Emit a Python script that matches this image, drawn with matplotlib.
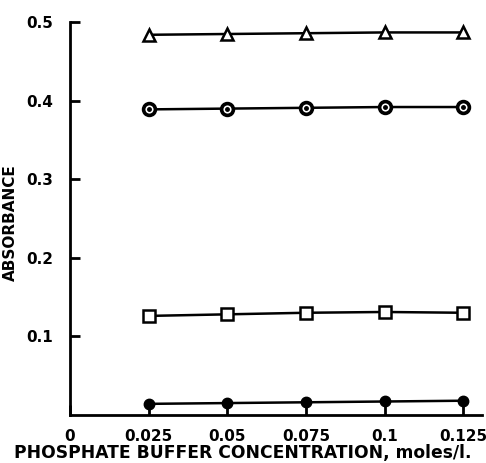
import matplotlib
matplotlib.use("Agg")
import matplotlib.pyplot as plt

conc = [0.025, 0.05, 0.075, 0.1, 0.125]
triangle_vals = [0.484, 0.485, 0.486, 0.487, 0.487]
dotcircle_vals = [0.389, 0.390, 0.391, 0.392, 0.392]
square_vals = [0.126, 0.128, 0.130, 0.131, 0.130]
filled_vals = [0.014, 0.015, 0.016, 0.017, 0.018]
xticks = [0, 0.025, 0.05, 0.075, 0.1, 0.125]
xticklabels = ["0", "0.025", "0.05", "0.075", "0.1", "0.125"]
yticks = [0.1, 0.2, 0.3, 0.4, 0.5]
yticklabels = ["0.1", "0.2", "0.3", "0.4", "0.5"]

plt.rcParams['font.family'] = ['DejaVu Sans']
plt.rcParams['font.weight'] = 'bold'

fig = plt.figure(figsize=(4.86, 4.63), dpi=100)
ax = fig.add_axes([0.144, 0.104, 0.848, 0.848])

lw = 1.8
ax.plot(conc, triangle_vals, color='black', lw=lw, marker='^', ms=9,
        mfc='white', mec='black', mew=1.8, zorder=3)
ax.plot(conc, dotcircle_vals, color='black', lw=lw, marker='o', ms=8.5,
        mfc='white', mec='black', mew=2.6, zorder=3)
ax.plot(conc, dotcircle_vals, ls='none', marker='o', ms=2.5, color='black', zorder=4)
ax.plot(conc, square_vals, color='black', lw=lw, marker='s', ms=8,
        mfc='white', mec='black', mew=1.8, zorder=3)
ax.plot(conc, filled_vals, color='black', lw=lw, marker='o', ms=7.5,
        mfc='black', mec='black', zorder=3)

ax.set_xlim(0, 0.131)
ax.set_ylim(0, 0.5)
ax.set_xticks(xticks)
ax.set_xticklabels(xticklabels)
ax.set_yticks(yticks)
ax.set_yticklabels(yticklabels)
ax.spines['top'].set_visible(False)
ax.spines['right'].set_visible(False)
ax.spines['left'].set_linewidth(2)
ax.spines['bottom'].set_linewidth(2)
ax.tick_params(direction='in', length=7, width=2, labelsize=11)
ax.tick_params(axis='y', pad=12)
ax.tick_params(axis='x', pad=10)

ax.set_xlabel("PHOSPHATE BUFFER CONCENTRATION, moles/l.", fontsize=12.3,
              fontweight='bold')
ax.xaxis.label.set_va('center')
ax.xaxis.set_label_coords(0.42, -0.097, transform=ax.transAxes)
ax.set_ylabel("ABSORBANCE", fontsize=11, fontweight='bold')
ax.yaxis.set_label_coords(-0.126, 0.49, transform=ax.transAxes)

fig.savefig("out.png", dpi=100)
